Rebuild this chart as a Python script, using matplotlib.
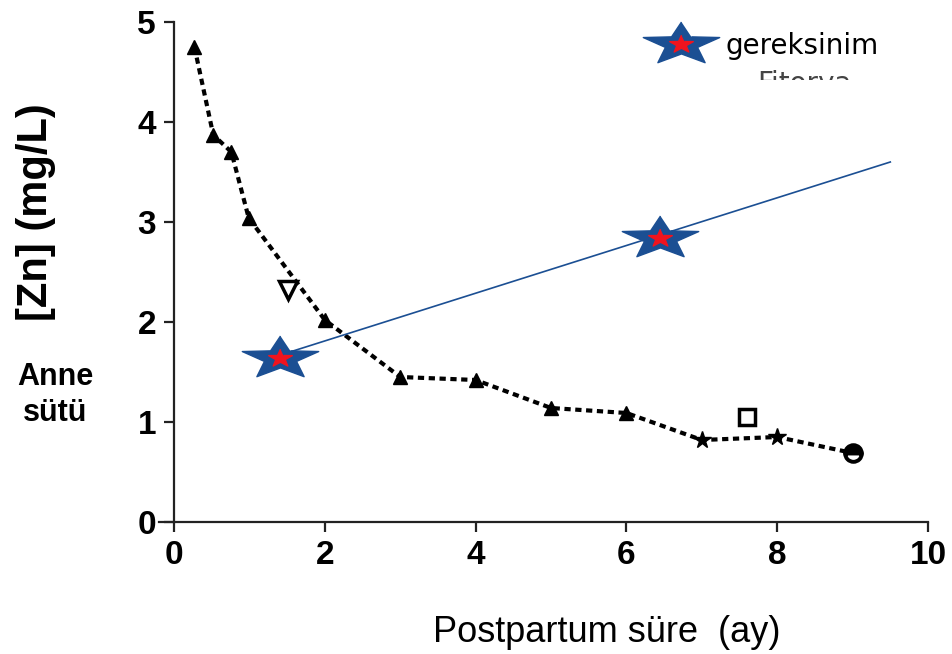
import numpy as np
import matplotlib
matplotlib.use("Agg")
import matplotlib.pyplot as plt
from matplotlib.legend_handler import HandlerTuple
from matplotlib.transforms import Bbox

# milk zinc curve (triangles), then two stars and a circle at the end
tri_x = [0.27, 0.52, 0.76, 0.99, 2.0, 3.0, 4.0, 5.0, 6.0]
tri_y = [4.75, 3.87, 3.70, 3.04, 2.02, 1.45, 1.42, 1.14, 1.09]
star_x = [7.0, 8.0]
star_y = [0.82, 0.85]
circ_x = [9.0]
circ_y = [0.69]
# separate open markers
vtri_x, vtri_y = [1.51], [2.32]
sq_x, sq_y = [7.6], [1.05]
# requirement line
req_x = [1.41, 9.5]
req_y = [1.67, 3.60]
req_star_x = [1.41, 6.45]
req_star_y = [1.64, 2.84]

BLUE = "#1b4f93"
RED = "#f0141e"


def flat_star(squash, inner=0.42):
    ang = np.pi / 2 + np.arange(10) * np.pi / 5
    r = np.where(np.arange(10) % 2 == 0, 1.0, inner)
    return list(zip(r * np.cos(ang), r * np.sin(ang) * squash))


STAR = flat_star(0.56)
STAR_IN = flat_star(0.75, 0.40)

plt.rcParams["font.family"] = ["Liberation Sans", "DejaVu Sans"]
fig = plt.figure(figsize=(9.53, 6.54), dpi=100)
ax = fig.add_axes([159 / 953, 132 / 654, (928 - 159) / 953, 500 / 654])

curve_x = tri_x + star_x + circ_x
curve_y = tri_y + star_y + circ_y
ax.plot(curve_x, curve_y, color="black", lw=3, ls=(0, (1.5, 1.1)), zorder=2)
ax.plot(tri_x, tri_y, ls="none", marker="^", ms=10, color="black", zorder=3)
ax.plot(star_x, star_y, ls="none", marker="*", ms=13, color="black", zorder=3)
ax.plot(circ_x, circ_y, ls="none", marker="o", ms=12, mfc="black", mfcalt="white",
        fillstyle="top", mec="black", mew=2.8, zorder=3)
ax.plot(vtri_x, vtri_y, ls="none", marker="v", ms=13, mfc="white", mec="black", mew=2.5, zorder=3)
ax.plot(sq_x, sq_y, ls="none", marker="s", ms=12, mfc="white", mec="black", mew=2.5, zorder=3)

ax.plot(req_x, req_y, color=BLUE, lw=1.2, zorder=4)
h_out, = ax.plot(req_star_x, req_star_y, ls="none", marker=STAR, ms=55, color=BLUE, zorder=5)
h_in, = ax.plot(req_star_x, req_star_y, ls="none", marker=STAR_IN, ms=17, color=RED, zorder=6)

leg = ax.legend([(h_out, h_in)], ["gereksinim"], handler_map={tuple: HandlerTuple(ndivide=1)},
                loc="upper right", bbox_to_anchor=(0.969, 1.03), frameon=False,
                prop={"family": "DejaVu Sans", "size": 20}, handlelength=2.0, handletextpad=0.6)

fit = fig.text(757 / 953, 1 - 92 / 654, "Fitorya", fontsize=20, family="DejaVu Sans",
               color="#444444", va="baseline")
fit.set_clip_box(Bbox([[700, 654 - 80], [953, 654 - 60]]))
fit.set_clip_on(True)

ax.set_xlim(-0.2, 10)
ax.set_ylim(0, 5)
ax.set_xticks([0, 2, 4, 6, 8, 10])
ax.set_yticks([0, 1, 2, 3, 4, 5])
for s in ("top", "right"):
    ax.spines[s].set_visible(False)
ax.spines["left"].set_position(("data", 0))
for s in ("left", "bottom"):
    ax.spines[s].set_linewidth(1.6)
    ax.spines[s].set_color("#222222")
ax.tick_params(direction="out", length=7, width=1.6, color="#222222", labelsize=24, pad=6)
for lab in ax.get_xticklabels() + ax.get_yticklabels():
    lab.set_fontweight("bold")

fig.text(607 / 953, 1 - 632 / 654, "Postpartum süre  (ay)", fontsize=26, ha="center", va="center")
fig.text(36 / 953, 1 - 212 / 654, "[Zn] (mg/L)", rotation=90, fontsize=30, fontweight="bold",
         ha="center", va="center")
fig.text(55 / 953, 1 - 395 / 654, "Anne\nsütü", fontsize=22, fontweight="bold",
         ha="center", va="center", linespacing=1.25)

fig.savefig("out.png", dpi=100)
